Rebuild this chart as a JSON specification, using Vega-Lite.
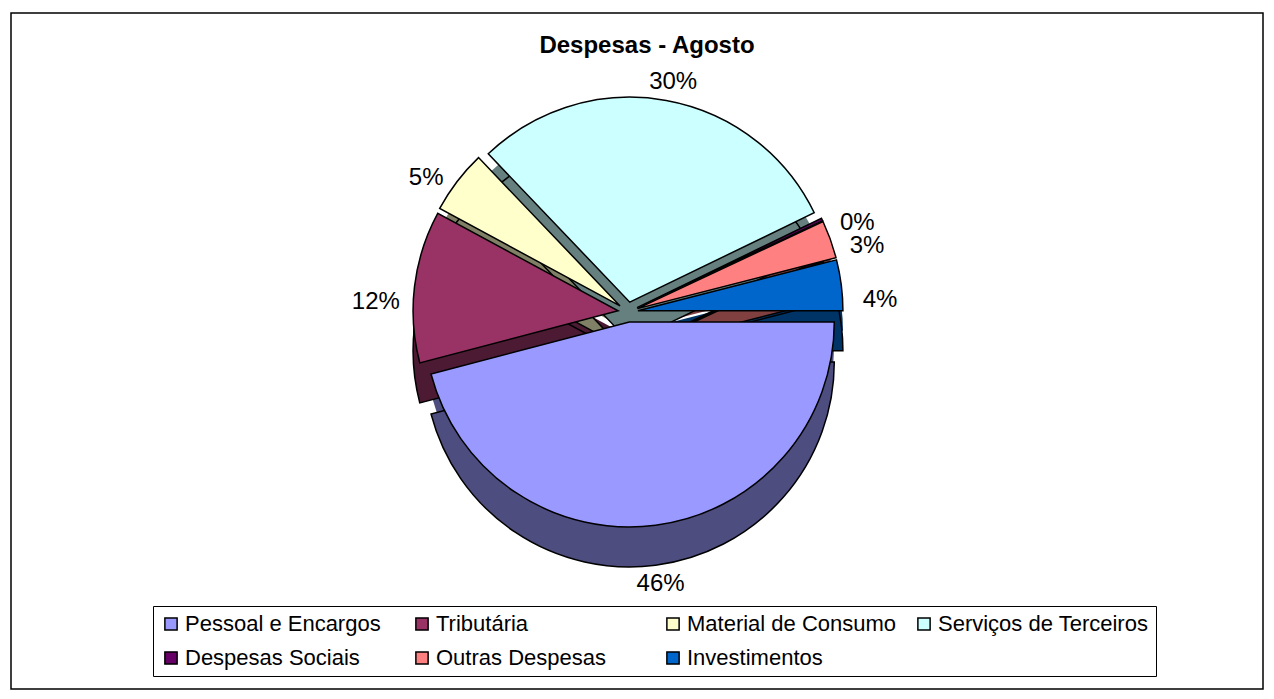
{
  "$schema": "https://vega.github.io/schema/vega-lite/v6.json",
  "width": 1274,
  "height": 699,
  "autosize": {"type": "fit", "contains": "padding"},
  "padding": {"left": 10, "top": 12, "right": 10, "bottom": 9},
  "background": "white",
  "title": {"text": "Despesas - Agosto", "fontSize": 24, "fontWeight": "bold", "font": "Liberation Sans", "color": "black", "offset": -46, "anchor": "middle", "dx": 10},
  "config": {"view": {"stroke": null}, "font": "Liberation Sans"},
  "data": {"values": [
    {"cat": "Pessoal e Encargos", "value": 0.46, "order": 1},
    {"cat": "Tributária", "value": 0.12, "order": 2},
    {"cat": "Material de Consumo", "value": 0.05, "order": 3},
    {"cat": "Serviços de Terceiros", "value": 0.30, "order": 4},
    {"cat": "Despesas Sociais", "value": 0.002, "order": 5},
    {"cat": "Outras Despesas", "value": 0.03, "order": 6},
    {"cat": "Investimentos", "value": 0.04, "order": 7}
  ]},
  "layer": [
    {
      "data": {"values": [{"frame": 1}]},
      "mark": {"type": "rect", "fill": null, "stroke": "black", "strokeWidth": 1.5},
      "encoding": {}
    },
    {
      "mark": {"type": "arc", "radius": 205, "strokeWidth": 0,
        "xOffset": {"expr": "-9 + 10*sin((scale('theta', datum.value_start) + scale('theta', datum.value_end))/2)"},
        "yOffset": {"expr": "-19 - 10*cos((scale('theta', datum.value_start) + scale('theta', datum.value_end))/2)"}},
      "encoding": {
        "theta": {"field": "value", "type": "quantitative", "stack": true, "scale": {"range": [1.5708, 7.854]}},
        "order": {"field": "order", "type": "quantitative"},
        "color": {"field": "cat", "type": "nominal", "legend": null,
        "scale": {"domain": ["Pessoal e Encargos", "Tributária", "Material de Consumo", "Serviços de Terceiros", "Despesas Sociais", "Outras Despesas", "Investimentos"],
                  "range": ["#4D4D80", "#4D1A33", "#808066", "#668080", "#330033", "#804040", "#003366"]}}}
    },
    {
      "mark": {"type": "arc", "radius": 205, "stroke": "black", "strokeWidth": 1.5,
        "xOffset": {"expr": "-9 + 10*sin((scale('theta', datum.value_start) + scale('theta', datum.value_end))/2)"},
        "yOffset": {"expr": "1 - 10*cos((scale('theta', datum.value_start) + scale('theta', datum.value_end))/2)"}},
      "encoding": {
        "theta": {"field": "value", "type": "quantitative", "stack": true, "scale": {"range": [1.5708, 7.854]}},
        "order": {"field": "order", "type": "quantitative"},
        "color": {"field": "cat", "type": "nominal", "legend": null,
        "scale": {"domain": ["Pessoal e Encargos", "Tributária", "Material de Consumo", "Serviços de Terceiros", "Despesas Sociais", "Outras Despesas", "Investimentos"],
                  "range": ["#4D4D80", "#4D1A33", "#808066", "#668080", "#330033", "#804040", "#003366"]}}}
    },
    {
      "mark": {"type": "arc", "radius": 205, "stroke": "black", "strokeWidth": 1.5,
        "xOffset": {"expr": "-9 + 10*sin((scale('theta', datum.value_start) + scale('theta', datum.value_end))/2)"},
        "yOffset": {"expr": "-39 - 10*cos((scale('theta', datum.value_start) + scale('theta', datum.value_end))/2)"}},
      "encoding": {
        "theta": {"field": "value", "type": "quantitative", "stack": true, "scale": {"range": [1.5708, 7.854]}},
        "order": {"field": "order", "type": "quantitative"},
        "color": {"field": "cat", "type": "nominal",
        "scale": {"domain": ["Pessoal e Encargos", "Tributária", "Material de Consumo", "Serviços de Terceiros", "Despesas Sociais", "Outras Despesas", "Investimentos"],
                  "range": ["#9999FF", "#993366", "#FFFFCC", "#CCFFFF", "#660066", "#FF8080", "#0066CC"]},
        "legend": {"title": null, "orient": "none", "direction": "horizontal", "legendX": 142, "legendY": 593, "columns": 4, "gridAlign": "all",
          "symbolType": "square", "symbolSize": 150, "symbolStrokeColor": "black", "symbolStrokeWidth": 1.5,
          "labelFontSize": 22, "labelFont": "Liberation Sans", "labelColor": "black", "labelLimit": 300, "labelOffset": 3,
          "strokeColor": "black", "padding": 7, "columnPadding": 15, "rowPadding": 12}}}
    },
    {
      "mark": {"type": "text", "radius": 254, "fontSize": 24, "font": "Liberation Sans", "color": "black", "xOffset": -9, "yOffset": -19},
      "encoding": {
        "theta": {"field": "value", "type": "quantitative", "stack": true, "scale": {"range": [1.5708, 7.854]}},
        "order": {"field": "order", "type": "quantitative"},
        "text": {"field": "value", "type": "quantitative", "format": ".0%"}}
    }
  ],
  "resolve": {"scale": {"color": "independent"}}
}
